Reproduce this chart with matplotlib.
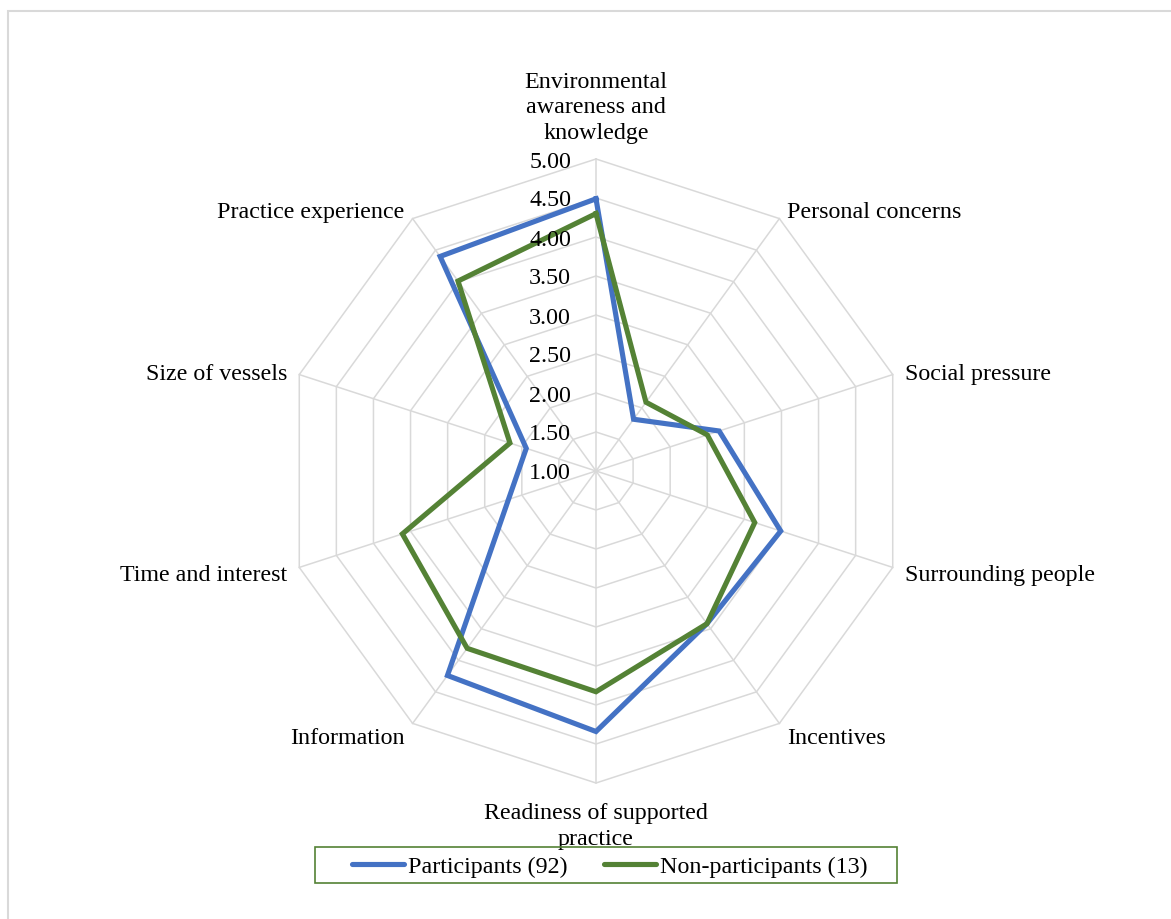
import numpy as np
import matplotlib
matplotlib.use("Agg")
import matplotlib.pyplot as plt
from matplotlib.patches import Rectangle
from matplotlib.lines import Line2D

categories = ["Environmental\nawareness and\nknowledge", "Personal concerns", "Social pressure",
              "Surrounding people", "Incentives", "Readiness of supported\npractice",
              "Information", "Time and interest", "Size of vessels", "Practice experience"]
participants = [4.49, 1.82, 2.66, 3.49, 3.42, 4.34, 4.24, 2.18, 1.94, 4.40]
non_participants = [4.30, 2.09, 2.50, 3.14, 3.42, 3.83, 3.81, 3.61, 2.16, 4.01]
series_names = ["Participants (92)", "Non-participants (13)"]
ring_values = [1.0, 1.5, 2.0, 2.5, 3.0, 3.5, 4.0, 4.5, 5.0]
ring_labels = ["1.00", "1.50", "2.00", "2.50", "3.00", "3.50", "4.00", "4.50", "5.00"]

BLUE = "#4472C4"
GREEN = "#548235"
GRID = "#D9D9D9"
FONT = "Liberation Serif"
FS = 17.3

plt.rcParams['font.family'] = [FONT, 'DejaVu Serif']

W, H = 1171, 920
fig = plt.figure(figsize=(W / 100, H / 100), dpi=100)

# outer chart border
fig.patches.append(Rectangle((8 / W, -0.05), 1.1, 1 - 11.5 / H + 0.05, transform=fig.transFigure,
                             fill=False, edgecolor=GRID, lw=1.5))

cx, cy, R = 596, 472, 312
ax = fig.add_axes([(cx - R) / W, (H - cy - R) / H, 2 * R / W, 2 * R / H], projection='polar')
ax.set_theta_zero_location('N')
ax.set_theta_direction(-1)
ax.set_ylim(ring_values[0], ring_values[-1])
ax.grid(False)
ax.set_xticks([])
ax.set_yticks([])
ax.spines['polar'].set_visible(False)
ax.patch.set_alpha(0)

n = len(categories)
theta = np.arange(n) * 2 * np.pi / n
theta_c = np.append(theta, theta[0])

for r in ring_values[1:]:
    ax.plot(theta_c, [r] * (n + 1), color=GRID, lw=1.1, zorder=1, clip_on=False)
for t in theta:
    ax.plot([t, t], [ring_values[0], ring_values[-1]], color=GRID, lw=1.1, zorder=1, clip_on=False)

for vals, col in [(participants, BLUE), (non_participants, GREEN)]:
    v = np.append(vals, vals[0])
    ax.plot(theta_c, v, color=col, lw=3.7, zorder=3, solid_joinstyle='miter', clip_on=False)

for r, lab in zip(ring_values, ring_labels):
    ax.annotate(lab, xy=(0, r), xytext=(-25, -2), textcoords='offset pixels',
                ha='right', va='center', fontsize=FS, zorder=4)

# category labels
offsets = [((0, 16), 'center', 'bottom'),
           ((8, 7.5), 'left', 'center'),
           ((12, 1), 'left', 'center'),
           ((12, -7), 'left', 'center'),
           ((8, -14), 'left', 'center'),
           ((0, -19), 'center', 'top'),
           ((-8, -14), 'right', 'center'),
           ((-12, -7), 'right', 'center'),
           ((-12, 1), 'right', 'center'),
           ((-8, 7.5), 'right', 'center')]
for t, lab, (off, ha, va) in zip(theta, categories, offsets):
    ax.annotate(lab, xy=(t, ring_values[-1]), xytext=off, textcoords='offset pixels',
                ha=ha, va=va, fontsize=FS, multialignment='center', linespacing=1.29)

# legend
handles = [Line2D([], [], color=BLUE, lw=3.7, solid_capstyle='round'),
           Line2D([], [], color=GREEN, lw=3.7, solid_capstyle='round')]
leg = fig.legend(handles, series_names, loc='center', bbox_to_anchor=(609.5 / W, 1 - 867.5 / H),
                 ncol=2, frameon=False, fontsize=FS, handlelength=2.2, handletextpad=0.15,
                 columnspacing=1.5, borderpad=0.2)
fig.patches.append(Rectangle((315 / W, 1 - 884 / H), (897 - 315) / W, 36 / H,
                             transform=fig.transFigure, fill=False, edgecolor=GREEN, lw=1.2))

fig.savefig("out.png", dpi=100, facecolor='white')
